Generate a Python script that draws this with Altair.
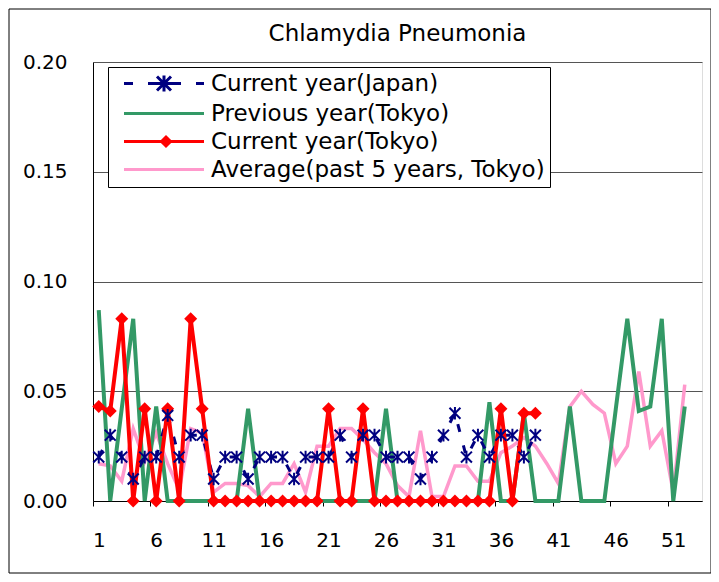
import altair as alt
import pandas as pd

# ---- data ----
SERIES = ["Current year(Japan)", "Previous year(Tokyo)", "Current year(Tokyo)",
          "Average(past 5 years, Tokyo)"]

JAPAN_CUR = [0.02, 0.03, 0.02, 0.01, 0.02, 0.02, 0.039, 0.02, 0.03, 0.03,
             0.01, 0.02, 0.02, 0.01, 0.02, 0.02, 0.02, 0.01, 0.02, 0.02,
             0.02, 0.03, 0.02, 0.03, 0.03, 0.02, 0.02, 0.02, 0.01, 0.02,
             0.03, 0.04, 0.02, 0.03, 0.02, 0.03, 0.03, 0.02, 0.03]

TOKYO_PREV = [0.087, 0.0, 0.042, 0.083, 0.0, 0.043, 0.0, 0.0, 0.0, 0.0,
              0.0, 0.0, 0.0, 0.042, 0.0, 0.0, 0.0, 0.0, 0.0, 0.0,
              0.0, 0.0, 0.0, 0.0, 0.0, 0.042, 0.0, 0.0, 0.0, 0.0,
              0.0, 0.0, 0.0, 0.0, 0.045, 0.0, 0.0, 0.04, 0.0, 0.0,
              0.0, 0.043, 0.0, 0.0, 0.0, 0.042, 0.083, 0.041, 0.043, 0.083,
              0.0, 0.043]

TOKYO_CUR = [0.043, 0.041, 0.083, 0.0, 0.042, 0.0, 0.042, 0.0, 0.083, 0.042,
             0.0, 0.0, 0.0, 0.0, 0.0, 0.0, 0.0, 0.0, 0.0, 0.0,
             0.042, 0.0, 0.0, 0.042, 0.0, 0.0, 0.0, 0.0, 0.0, 0.0,
             0.0, 0.0, 0.0, 0.0, 0.0, 0.042, 0.0, 0.04, 0.04]

TOKYO_AVG = [0.017, 0.016, 0.009, 0.033, 0.018, 0.031, 0.017, 0.005, 0.033, 0.031,
             0.004, 0.008, 0.008, 0.007, 0.002, 0.008, 0.008, 0.017, 0.004, 0.025,
             0.025, 0.033, 0.033, 0.028, 0.022, 0.017, 0.007, 0.002, 0.032, 0.002,
             0.002, 0.016, 0.016, 0.009, 0.009, 0.022, 0.025, 0.029, 0.025, 0.017,
             0.008, 0.043, 0.05, 0.044, 0.04, 0.017, 0.025, 0.059, 0.025, 0.032,
             0.004, 0.053]

X_TICKS = [1, 6, 11, 16, 21, 26, 31, 36, 41, 46, 51]
Y_TICKS = [0.0, 0.05, 0.10, 0.15, 0.20]

COLORS = ["#000080", "#339966", "#FF0000", "#FF99CC"]

FONT = "DejaVu Sans"


def frame(values, name):
    return pd.DataFrame({"week": list(range(1, len(values) + 1)),
                         "value": values, "series": name})


japan = frame(JAPAN_CUR, SERIES[0])
prev = frame(TOKYO_PREV, SERIES[1])
cur = frame(TOKYO_CUR, SERIES[2])
avg = frame(TOKYO_AVG, SERIES[3])

W, H = 609, 439
NWEEKS = 53
half = W / NWEEKS / 2

x_enc = alt.X("week:Q", scale=alt.Scale(domain=[0.5, NWEEKS + 0.5], nice=False, zero=False),
              axis=alt.Axis(values=X_TICKS, format="d", grid=False, title=None,
                            labelFontSize=20, labelFont=FONT, labelColor="black",
                            labelPadding=24, tickSize=5, tickColor="black",
                            tickOffset=-half, labelOffset=half,
                            domainColor="black", labelFlush=False))
y_enc = alt.Y("value:Q", scale=alt.Scale(domain=[0, 0.2], nice=False),
              axis=alt.Axis(values=Y_TICKS, format=".2f", title=None, ticks=False,
                            labelFontSize=20, labelFont=FONT, labelColor="black",
                            labelPadding=26, grid=True, gridColor="#555555",
                            gridWidth=1, domainColor="black"))

ASTERISK = "M-1,-1L1,1M-1,1L1,-1M0,-1.15L0,1.15"

# legend symbols (line + marker), unit = sqrt(size)/2 px
LEG_JAPAN = ("M-0.05,0H0.85M2.35,0H5.65M7.15,0H7.95"
             "M3.25,-0.7L4.65,0.7M3.25,0.7L4.65,-0.7M3.95,-0.8L3.95,0.8")
LEG_LINE = "M-0.05,0H7.95"
LEG_RED = ("M-0.05,0H7.95"
           "M3.7,0L4.15,-0.45L4.6,0L4.15,0.45Z"
           "M4.0,0L4.15,-0.15L4.3,0L4.15,0.15Z")

border = alt.Chart(alt.Data(values=[{}])).mark_rect(
    filled=False, stroke="black", strokeWidth=1).encode(
    x=alt.value(-84), x2=alt.value(618), y=alt.value(-53), y2=alt.value(511))

pink_line = alt.Chart(avg).mark_line(color=COLORS[3], strokeWidth=3.5).encode(x=x_enc, y=y_enc)
green_line = alt.Chart(prev).mark_line(color=COLORS[1], strokeWidth=4).encode(x=x_enc, y=y_enc)
navy_line = alt.Chart(japan).mark_line(color=COLORS[0], strokeWidth=3,
                                       strokeDash=[8, 14]).encode(x=x_enc, y=y_enc)
red_line = alt.Chart(cur).mark_line(color=COLORS[2], strokeWidth=4).encode(x=x_enc, y=y_enc)
red_pts = alt.Chart(cur).mark_point(shape="diamond", filled=True, color=COLORS[2],
                                    size=169, opacity=1).encode(x=x_enc, y=y_enc)
navy_pts = alt.Chart(japan).mark_point(shape=ASTERISK, filled=False, color=COLORS[0],
                                       strokeWidth=2, size=120, opacity=1).encode(x=x_enc, y=y_enc)

legend_df = pd.DataFrame({"series": SERIES})
legend_layer = alt.Chart(legend_df).mark_point(filled=False, size=400, strokeWidth=3,
                                               opacity=1).encode(
    color=alt.Color("series:N",
                    scale=alt.Scale(domain=SERIES, range=COLORS),
                    legend=alt.Legend(orient="none", legendX=15, legendY=5, title=None,
                                      direction="vertical", strokeColor="black",
                                      fillColor="white", padding=5,
                                      labelFontSize=23, labelFont=FONT, labelColor="black",
                                      labelOffset=75, labelLimit=600,
                                      symbolSize=400, symbolStrokeWidth=3,
                                      rowPadding=4)),
    shape=alt.Shape("series:N",
                    scale=alt.Scale(domain=SERIES,
                                    range=[LEG_JAPAN, LEG_LINE, LEG_RED, LEG_LINE]),
                    legend=alt.Legend(orient="none", legendX=15, legendY=5, title=None)),
).transform_filter("false")

chart = alt.layer(
    border, pink_line, green_line, navy_line, red_line, red_pts, navy_pts, legend_layer
).properties(
    width=W, height=H,
    title=alt.TitleParams("Chlamydia Pneumonia", fontSize=23, font=FONT,
                          fontWeight="normal", color="black", anchor="middle",
                          offset=15, dy=52),
    autosize=alt.AutoSizeParams(type="none"),
    padding={"left": 85, "top": 54, "right": 9, "bottom": 73},
).configure_view(
    stroke="#808080", strokeWidth=1
).configure(background="white")

chart.save("out.html", embed_options={"renderer": "svg", "actions": False})
